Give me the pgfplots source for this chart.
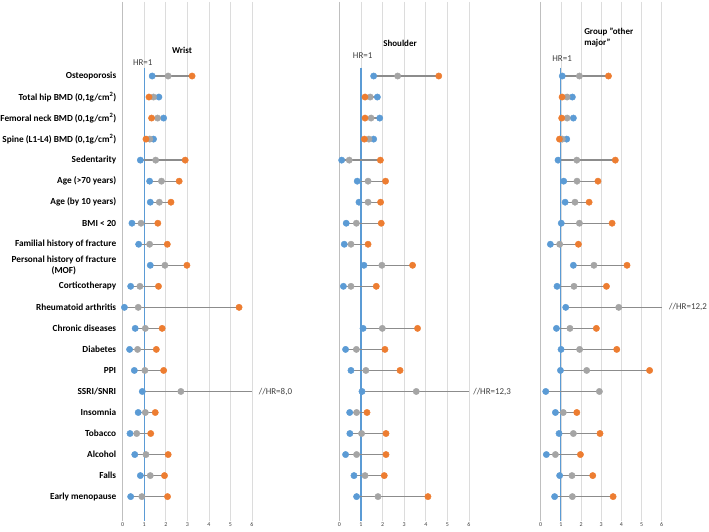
\documentclass[border=0pt]{standalone}
\usepackage{fontspec}
\setmainfont{Carlito}
\usepackage{pgfplots}
\usepackage{pgfplotstable}
\pgfplotsset{compat=1.18}
\definecolor{cblue}{HTML}{5B9BD5}
\definecolor{corange}{HTML}{ED7D31}
\definecolor{cgray}{HTML}{A5A5A5}
\definecolor{cline}{HTML}{8C8C8C}
\definecolor{cgrid}{HTML}{DCDCDC}
\definecolor{caxis}{HTML}{BFBFBF}
\definecolor{ctext}{HTML}{404040}

\pgfplotstableread{
y blue gray orange l r
1 1.37 2.11 3.22 1.37 3.22
2 1.68 1.43 1.22 1.22 1.68
3 1.90 1.62 1.34 1.34 1.90
4 1.43 1.26 1.08 1.08 1.43
5 0.82 1.53 2.90 0.82 2.90
6 1.25 1.80 2.62 1.25 2.62
7 1.28 1.70 2.24 1.28 2.24
8 0.43 0.85 1.63 0.43 1.63
9 0.74 1.25 2.07 0.74 2.07
10 1.28 1.96 2.98 1.28 2.98
11 0.37 0.80 1.66 0.37 1.66
12 0.08 0.72 5.40 0.08 5.40
13 0.58 1.05 1.83 0.58 1.83
14 0.32 0.69 1.56 0.32 1.56
15 0.54 1.03 1.90 0.54 1.90
16 0.91 2.70 nan 0.91 6.00
17 0.72 1.05 1.51 0.72 1.51
18 0.34 0.65 1.30 0.34 1.30
19 0.56 1.08 2.11 0.56 2.11
20 0.82 1.28 1.94 0.82 1.94
21 0.37 0.89 2.08 0.37 2.08
}\wrist

\pgfplotstableread{
y blue gray orange l r
1 1.59 2.70 4.60 1.59 4.60
2 1.76 1.43 1.19 1.19 1.76
3 1.87 1.47 1.19 1.19 1.87
4 1.59 1.37 1.16 1.16 1.59
5 0.11 0.46 1.90 0.11 1.90
6 0.83 1.33 2.14 0.83 2.14
7 0.91 1.33 1.91 0.91 1.91
8 0.32 0.79 1.94 0.32 1.94
9 0.23 0.54 1.33 0.23 1.33
10 1.14 1.97 3.39 1.14 3.39
11 0.19 0.54 1.71 0.19 1.71
13 1.10 1.99 3.62 1.10 3.62
14 0.29 0.79 2.11 0.29 2.11
15 0.54 1.23 2.81 0.54 2.81
16 1.05 3.56 nan 1.05 6.00
17 0.48 0.80 1.28 0.48 1.28
18 0.49 1.03 2.16 0.49 2.16
19 0.29 0.80 2.16 0.29 2.16
20 0.68 1.19 2.08 0.68 2.08
21 0.80 1.79 4.10 0.80 4.10
}\shoulder

\pgfplotstableread{
y blue gray orange l r
1 1.07 1.92 3.36 1.07 3.36
2 1.57 1.31 1.06 1.06 1.57
3 1.62 1.31 1.04 1.04 1.62
4 1.29 1.07 0.93 0.93 1.29
5 0.86 1.79 3.70 0.86 3.70
6 1.14 1.80 2.84 1.14 2.84
7 1.21 1.70 2.40 1.21 2.40
8 1.02 1.92 3.54 1.02 3.54
9 0.48 0.94 1.87 0.48 1.87
10 1.62 2.64 4.28 1.62 4.28
11 0.81 1.65 3.26 0.81 3.26
12 1.24 3.87 nan 1.24 6.00
13 0.78 1.45 2.76 0.78 2.76
14 1.01 1.93 3.77 1.01 3.77
15 0.98 2.28 5.40 0.98 5.40
16 0.25 2.91 nan 0.25 2.91
17 0.73 1.12 1.79 0.73 1.79
18 0.91 1.62 2.94 0.91 2.94
19 0.28 0.73 1.97 0.28 1.97
20 0.94 1.55 2.58 0.94 2.58
21 0.69 1.57 3.59 0.69 3.59
}\other

\pgfplotsset{
  panel/.style={
    scale only axis, height=519bp,
    xmin=0, xmax=6, ymin=-2.52, ymax=22.16, y dir=reverse,
    xtick={0,...,6}, ytick=\empty,
    xmajorgrids, major grid style={cgrid, line width=0.7pt},
    axis line style={draw=none}, tick style={draw=none},
    clip=false, anchor=south west,
    xticklabel style={font=\fontsize{6}{7}\selectfont, text=ctext, inner sep=1pt},
    /pgf/number format/assume math mode=true,
  },
  segs/.style={draw=none, mark=none,
    error bars/.cd, x dir=both, x explicit, error mark=none,
    error bar style={draw=cline, solid, line width=1.3pt}},
  dot/.style={only marks, mark=*, mark size=3.2pt, mark options={draw=#1, fill=#1}},
}

\newcommand{\drawpanel}[1]{%
  \draw[caxis, line width=1pt] (axis cs:0,-2.52) -- (axis cs:0,22.16);
  \draw[cblue, line width=1.2pt] (axis cs:1,0.6) -- (axis cs:1,22.16);
  \addplot[segs] table[x=gray, y=y, x error plus expr=\thisrow{r}-\thisrow{gray}, x error minus expr=\thisrow{gray}-\thisrow{l}] {#1};
  \addplot[dot=cblue] table[x=blue, y=y] {#1};
  \addplot[dot=cgray] table[x=gray, y=y] {#1};
  \addplot[dot=corange] table[x=orange, y=y] {#1};
}

\begin{document}
\begin{tikzpicture}
\useasboundingbox (0,0) rectangle (709bp,532bp);

\begin{axis}[panel, at={(122.7bp,11bp)}, width=129.3bp,
  ytick={1,...,21},
  yticklabels={Osteoporosis, {Total hip BMD (0,1g/cm\textsuperscript{2})}, {Femoral neck BMD (0,1g/cm\textsuperscript{2})}, {Spine (L1-L4) BMD (0,1g/cm\textsuperscript{2})}, Sedentarity, Age (>70 years), Age (by 10 years), BMI < 20, Familial history of fracture, {Personal history of fracture\\(MOF)}, Corticotherapy, Rheumatoid arthritis, Chronic diseases, Diabetes, PPI, SSRI/SNRI, Insomnia, Tobacco, Alcohol, Falls, Early menopause},
  yticklabel style={font=\bfseries\fontsize{9.3}{10.5}\selectfont, align=center, text=black, xshift=-3bp},
]
\drawpanel{\wrist}
\node[font=\bfseries\fontsize{9}{10}\selectfont] at (axis cs:2.75,-0.24) {Wrist};
\node[font=\fontsize{9}{10}\selectfont, text=ctext] at (axis cs:0.93,0.38) {HR=1};
\node[font=\fontsize{9}{10}\selectfont, text=ctext, anchor=west, inner sep=0pt] at (axis cs:6.31,16) {//HR=8,0};
\end{axis}

\begin{axis}[panel, at={(339.3bp,11bp)}, width=129.7bp]
\drawpanel{\shoulder}
\node[font=\bfseries\fontsize{9}{10}\selectfont] at (axis cs:2.81,-0.57) {Shoulder};
\node[font=\fontsize{9}{10}\selectfont, text=ctext] at (axis cs:1.08,0.05) {HR=1};
\node[font=\fontsize{9}{10}\selectfont, text=ctext, anchor=west, inner sep=0pt] at (axis cs:6.19,16) {//HR=12,3};
\end{axis}

\begin{axis}[panel, at={(540.7bp,11bp)}, width=121bp]
\drawpanel{\other}
\node[font=\bfseries\fontsize{9}{10.5}\selectfont, align=left, anchor=west, inner sep=0pt] at (axis cs:2.15,-0.83) {Group "other\\major"};
\node[font=\fontsize{9}{10}\selectfont, text=ctext] at (axis cs:1.06,0.19) {HR=1};
\node[font=\fontsize{9}{10}\selectfont, text=ctext, anchor=west, inner sep=0pt] at (axis cs:6.36,12) {//HR=12,2};
\end{axis}
\end{tikzpicture}
\end{document}
